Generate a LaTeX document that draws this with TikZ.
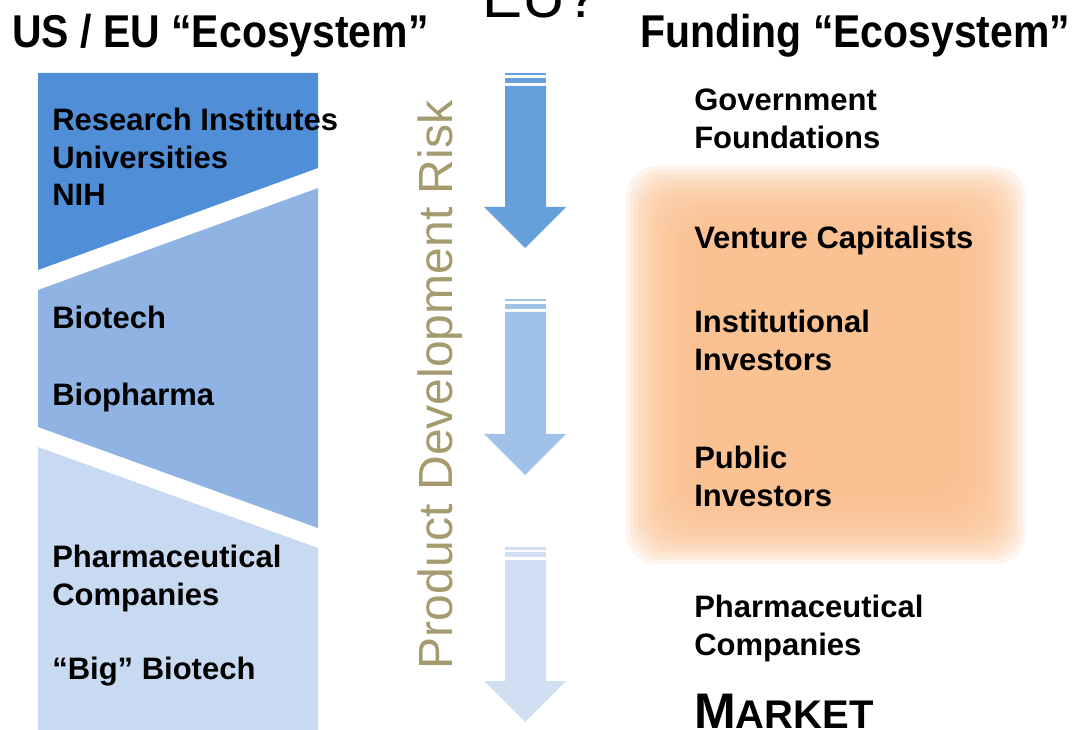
\documentclass[tikz,border=0pt]{standalone}
\usepackage{fontspec}
\setmainfont{Liberation Sans}
\definecolor{bandA}{RGB}{80,142,216}
\definecolor{bandB}{RGB}{143,180,228}
\definecolor{bandC}{RGB}{199,218,241}
\definecolor{arrowA}{RGB}{102,160,220}
\definecolor{arrowB}{RGB}{160,194,232}
\definecolor{arrowC}{RGB}{208,224,242}
\definecolor{glow}{RGB}{250,192,144}
\definecolor{olive1}{RGB}{166,155,110}

\begin{document}
\begin{tikzpicture}[x=0.75pt,y=-0.75pt]
  \tikzstyle{item}=[font=\bfseries\fontsize{23.25}{28.1}\selectfont,align=left,inner sep=0pt,anchor=north west]
  \tikzstyle{head}=[font=\bfseries\fontsize{34.5}{40}\selectfont,inner sep=0pt,anchor=base west]
  \useasboundingbox (0,0) rectangle (1078,730);

  % left column bands
  \fill[bandA] (38,73) -- (318,73) -- (318,168) -- (38,270) -- cycle;
  \fill[bandB] (38,290) -- (318,188) -- (318,528) -- (38,427) -- cycle;
  \fill[bandC] (38,447) -- (318,548) -- (318,730) -- (38,730) -- cycle;

  % orange glow behind the investors
  \foreach \d in {-40,-36,...,36}
    \fill[glow,opacity=0.17,rounded corners=24] (662-\d,202-\d) rectangle (990+\d,528+\d);

  % risk arrows
  \foreach \top/\base/\col in {86/207/arrowA,312/434/arrowB,560/681/arrowC} {
    \fill[\col] (505,\top-13) rectangle (546,\top-10.5);
    \fill[\col] (505,\top-8) rectangle (546,\top-3);
    \fill[\col] (505,\top) -- (546,\top) -- (546,\base) -- (566,\base)
      -- (525,\base+41) -- (484,\base) -- (505,\base) -- cycle;
  }

  \node[head] (usEco)   at (12,48)  {\scalebox{0.89}[1]{US / EU “Ecosystem”}};
  \node[head] (fundEco) at (640,48) {\scalebox{0.89}[1]{Funding “Ecosystem”}};
  \node[font=\fontsize{45}{50}\selectfont,inner sep=0pt,anchor=base] (eu) at (541,18) {EU?};

  \node[item] (research)  at (52,108) {Research Institutes\\Universities\\NIH};
  \node[item] (biotech)   at (52,306) {Biotech};
  \node[item] (biopharma) at (52,383) {Biopharma};
  \node[item] (pharmaL)   at (52,545) {Pharmaceutical\\Companies};
  \node[item] (bigbio)    at (52,657) {“Big” Biotech};

  \node[rotate=90,text=olive1,font=\fontsize{36}{40}\selectfont,inner sep=0pt,anchor=base] (risk) at (452,385) {Product Development Risk};

  \node[item] (gov)     at (694,89)  {Government\\Foundations};
  \node[item] (vc)      at (694,226) {Venture Capitalists};
  \node[item] (inst)    at (694,310) {Institutional\\Investors};
  \node[item] (public)  at (694,446) {Public\\Investors};
  \node[item] (pharmaR) at (694,595) {Pharmaceutical\\Companies};
  \node[font=\bfseries\fontsize{37.5}{40}\selectfont,inner sep=0pt,anchor=base west] (market) at (694,728) {M{\fontsize{30}{30}\selectfont ARKET}};
\end{tikzpicture}
\end{document}
